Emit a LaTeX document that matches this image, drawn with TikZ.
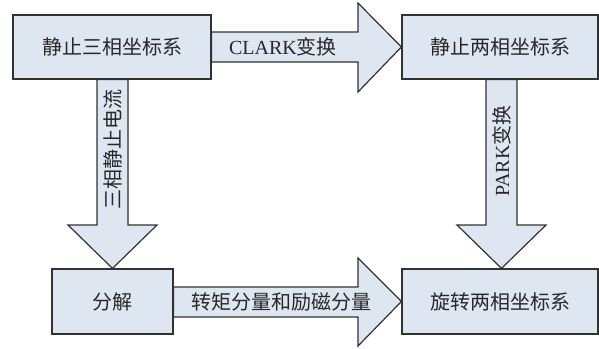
\documentclass[tikz,border=0pt]{standalone}
\usepackage{fontspec}
\setmainfont{Liberation Serif}
\newfontfamily\cjk{Noto Sans CJK SC}
\definecolor{boxfill}{RGB}{222,230,241}
\definecolor{edge}{RGB}{50,50,50}
\definecolor{txt}{RGB}{40,40,40}
\begin{document}
\begin{tikzpicture}[x=1pt,y=-1pt,
  blk/.style={draw=edge,line width=1.2pt,fill=boxfill,inner sep=0pt,
    text=txt,font=\fontsize{20}{20}\selectfont\cjk},
  arr/.style={draw=edge,line width=1.2pt,fill=boxfill,line join=miter},
  lbl/.style={text=txt,inner sep=0pt,font=\fontsize{20}{20}\selectfont}]
\useasboundingbox (0,0) rectangle (599,348);
% boxes (coordinates only first, drawn later on top)
\path (112,47) node[blk,minimum width=198pt,minimum height=64pt] (b1) {};
\path (500,47) node[blk,minimum width=196pt,minimum height=64pt] (b2) {};
\path (112.5,301.5) node[blk,minimum width=121pt,minimum height=65pt] (b3) {};
\path (500,301.5) node[blk,minimum width=196pt,minimum height=65pt] (b4) {};
% arrows
\draw[arr] (b1.east |- 0,32) -- (358,32) -- (358,3) -- (b2.west) -- (358,92) -- (358,62) -- (b1.east |- 0,62) -- cycle;
\draw[arr] (b3.east |- 0,287) -- (358,287) -- (358,258) -- (b4.west) -- (358,346) -- (358,317) -- (b3.east |- 0,317) -- cycle;
\draw[arr] (97,0 |- b1.south) -- (97,225) -- (68,225) -- (b3.north) -- (157,225) -- (128,225) -- (128,0 |- b1.south) -- cycle;
\draw[arr] (486,0 |- b2.south) -- (486,225) -- (457,225) -- (b4.north -| 501.5,0) -- (546,225) -- (517,225) -- (517,0 |- b2.south) -- cycle;
% boxes on top
\node[blk,minimum width=198pt,minimum height=64pt] at (b1.center) {静止三相坐标系};
\node[blk,minimum width=196pt,minimum height=64pt] at (b2.center) {静止两相坐标系};
\node[blk,minimum width=121pt,minimum height=65pt] at (b3.center) {分解};
\node[blk,minimum width=196pt,minimum height=65pt] at (b4.center) {旋转两相坐标系};
% labels
\node[lbl] (l1) at (283,47) {CLARK{\cjk 变换}};
\node[lbl] (l2) at (281,302) {\cjk 转矩分量和励磁分量};
\node[lbl,rotate=90] (l3) at (112.5,149) {\cjk 三相静止电流};
\node[lbl,rotate=90] (l4) at (501.5,151) {PARK{\cjk 变换}};
\end{tikzpicture}
\end{document}
